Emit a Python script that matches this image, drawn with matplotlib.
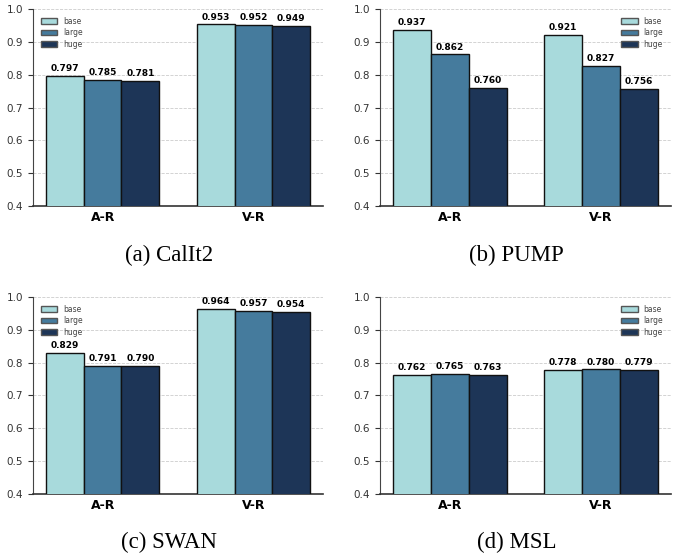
import numpy as np
import matplotlib
matplotlib.use('Agg')
import matplotlib.pyplot as plt

# data
groups = ['A-R', 'V-R']
sizes = ['base', 'large', 'huge']
colors = ['#A8DADC', '#457B9D', '#1D3557']
calit2 = [[0.797, 0.953], [0.785, 0.952], [0.781, 0.949]]
pump = [[0.937, 0.921], [0.862, 0.827], [0.760, 0.756]]
swan = [[0.829, 0.964], [0.791, 0.957], [0.790, 0.954]]
msl = [[0.762, 0.778], [0.765, 0.780], [0.763, 0.779]]
captions = ['(a) CalIt2', '(b) PUMP', '(c) SWAN', '(d) MSL']
legend_locs = ['upper left', 'upper right', 'upper left', 'upper right']

fig = plt.figure(figsize=(6.86, 5.57), dpi=100)
pos = [[0.048, 0.630, 0.423, 0.354],
       [0.554, 0.630, 0.424, 0.354],
       [0.048, 0.113, 0.423, 0.354],
       [0.554, 0.113, 0.424, 0.354]]
cap_pos = [(0.246, 0.541), (0.753, 0.541), (0.246, 0.027), (0.753, 0.027)]

x = np.arange(len(groups))
w = 0.25
for k, data in enumerate([calit2, pump, swan, msl]):
    ax = fig.add_axes(pos[k])
    for i in range(3):
        bars = ax.bar(x + (i - 1) * w, data[i], w, color=colors[i], edgecolor='#111111',
                      linewidth=1, label=sizes[i], zorder=3)
        for b, v in zip(bars, data[i]):
            ax.text(b.get_x() + b.get_width() / 2, v + 0.008, '%.3f' % v, ha='center', va='bottom',
                    fontsize=6.5, fontweight='bold', zorder=4)
    ax.set_ylim(0.4, 1.0)
    ax.set_xticks(x)
    ax.set_xticklabels(groups, fontsize=9, fontweight='bold')
    ax.tick_params(axis='y', labelsize=7.5, colors='#333333')
    ax.tick_params(axis='x', length=0)
    ax.grid(axis='y', linestyle='--', linewidth=0.6, color='#cccccc', zorder=0)
    ax.spines['top'].set_visible(False)
    ax.spines['right'].set_visible(False)
    ax.spines['left'].set_color('#444444')
    ax.spines['bottom'].set_color('#333333')
    ax.spines['bottom'].set_linewidth(1.2)
    leg = ax.legend(loc=legend_locs[k], fontsize=5.5, frameon=False, handlelength=2.2,
                    handleheight=0.8, labelspacing=0.35, borderaxespad=0.6,
                    labelcolor='#444444')
    for h in leg.legend_handles:
        h.set_edgecolor('#555555')
    fig.text(cap_pos[k][0], cap_pos[k][1], captions[k], ha='center', va='center',
             fontsize=16.5, family='Liberation Serif')

plt.savefig('out.png', dpi=100)
